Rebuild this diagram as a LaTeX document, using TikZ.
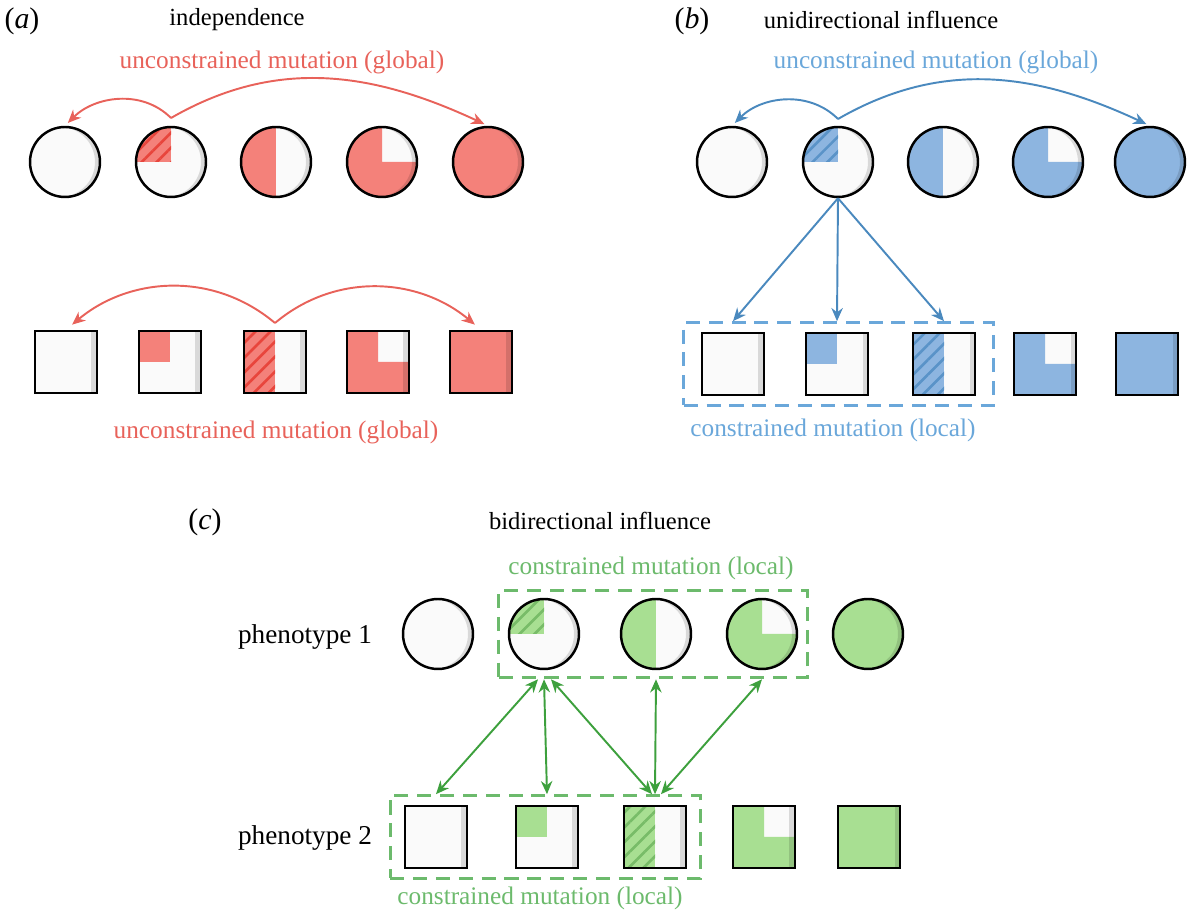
\documentclass[tikz,border=0pt]{standalone}
\usepackage{fontspec}
\setmainfont{Liberation Serif}
\usetikzlibrary{positioning,arrows.meta,patterns.meta,fit,calc}

\definecolor{paper}{HTML}{FAFAFA}
\definecolor{redfill}{HTML}{F4817A}
\definecolor{redline}{HTML}{E8625A}
\definecolor{redhatch}{HTML}{E8453C}
\definecolor{bluefill}{HTML}{8DB5E0}
\definecolor{blueline}{HTML}{4A89BE}
\definecolor{bluetext}{HTML}{6AA7DA}
\definecolor{bluehatch}{HTML}{5A93C8}
\definecolor{greenfill}{HTML}{A8DF92}
\definecolor{greenline}{HTML}{3DA03D}
\definecolor{greentext}{HTML}{6CBA6C}
\definecolor{greenhatch}{HTML}{78BC68}

% fills inside a node (path picture)
\newcommand{\pb}{path picture bounding box}
\newcommand{\fq}[1]{\fill[#1] (\pb.west) rectangle (\pb.north);}
\newcommand{\fh}[1]{\fill[#1] (\pb.south west) rectangle (\pb.north);}
\newcommand{\ft}[1]{\fill[#1] (\pb.south west) -- (\pb.north west) -- (\pb.north) -- (\pb.center) -- (\pb.east) -- (\pb.south east) -- cycle;}
\newcommand{\ff}[1]{\fill[#1] (\pb.south west) rectangle (\pb.north east);}
\newcommand{\cshade}{\fill[black,opacity=.13,even odd rule] (\pb.south west) rectangle (\pb.north east) ([xshift=-0.1cm]\pb.center) circle (0.7cm);}
\newcommand{\bshade}{\fill[black,opacity=.13] ([xshift=-0.11cm]\pb.south east) rectangle (\pb.north east);}

\tikzset{
  cir/.style={circle, draw, line width=1.4pt, minimum size=1.4cm, inner sep=0pt, fill=paper, path picture={#1\cshade}},
  cir/.default={},
  sq/.style={rectangle, draw, line width=1.4pt, minimum size=1.24cm, inner sep=0pt, fill=paper, path picture={#1\bshade}},
  sq/.default={},
  hatch/.style={pattern={Lines[angle=45,distance=6pt,line width=1.5pt]}, pattern color=#1},
  mut/.style={draw=#1, line width=1.1pt, -{Stealth[length=7.5pt,width=6.5pt]}},
  both/.style={draw=#1, line width=1.1pt, {Stealth[length=7.5pt,width=6.5pt]}-{Stealth[length=7.5pt,width=6.5pt]}},
  dbox/.style={draw=#1, dash pattern=on 8pt off 5pt, line width=1.8pt, inner sep=0pt},
  panel/.style={font=\fontsize{17}{19}\selectfont},
  title/.style={font=\fontsize{14}{16}\selectfont},
  pheno/.style={font=\fontsize{15.5}{18}\selectfont},
  lab/.style={font=\fontsize{14.4}{17}\selectfont, text=#1}
}

\begin{document}
\begin{tikzpicture}[x=0.02cm, y=0.02cm]
    \useasboundingbox (0,0) rectangle (1188,-915);

    % (a) independence
    \node[panel] (ta) at (22,-21) {(\textit{a})};
    \node[title] (tta) at (237,-20) {independence};
    \node[lab=redline] (la1) at (282,-62) {unconstrained mutation (global)};

    \node[cir] (ac1) at (65,-162) {};
    \node[cir={\fq{redfill}\fq{hatch=redhatch}}] (ac2) at (171,-162) {};
    \node[cir={\fh{redfill}}] (ac3) at (276,-162) {};
    \node[cir={\ft{redfill}}] (ac4) at (382,-162) {};
    \node[cir={\ff{redfill}}] (ac5) at (488,-162) {};
    \coordinate (ra) at (171,-118);

    \draw[mut=redline, shorten >=0.08cm] (ra) to[out=135,in=45] (ac1.north);
    \draw[mut=redline, shorten >=0.08cm] (ra) to[out=30,in=155] (ac5.north);

    \node[sq] (as1) at (66,-362) {};
    \node[sq={\fq{redfill}}] (as2) at (170,-362) {};
    \node[sq={\fh{redfill}\fh{hatch=redhatch}}] (as3) at (275,-362) {};
    \node[sq={\ft{redfill}}] (as4) at (378,-362) {};
    \node[sq={\ff{redfill}}] (as5) at (481,-362) {};
    \coordinate (rb) at (275,-323);

    \draw[mut=redline, shorten >=0.16cm] (rb) to[out=140,in=40] (as1.north);
    \draw[mut=redline, shorten >=0.16cm] (rb) to[out=40,in=140] (as5.north);
    \node[lab=redline] (la2) at (276,-432) {unconstrained mutation (global)};

    % (b) unidirectional influence
    \node[panel] (tb) at (692,-21) {(\textit{b})};
    \node[title] (ttb) at (881,-20) {unidirectional influence};
    \node[lab=bluetext] (lb1) at (936,-62) {unconstrained mutation (global)};

    \node[cir] (bc1) at (732,-162) {};
    \node[cir={\fq{bluefill}\fq{hatch=bluehatch}}] (bc2) at (838,-162) {};
    \node[cir={\fh{bluefill}}] (bc3) at (943,-162) {};
    \node[cir={\ft{bluefill}}] (bc4) at (1048,-162) {};
    \node[cir={\ff{bluefill}}] (bc5) at (1150,-162) {};
    \coordinate (rc) at (838,-119);

    \draw[mut=blueline, shorten >=0.08cm] (rc) to[out=135,in=45] (bc1.north);
    \draw[mut=blueline, shorten >=0.08cm] (rc) to[out=30,in=155] (bc5.north);

    \node[sq] (bs1) at (733,-364) {};
    \node[sq={\fq{bluefill}}] (bs2) at (837,-364) {};
    \node[sq={\fh{bluefill}\fh{hatch=bluehatch}}] (bs3) at (944,-364) {};
    \node[sq={\ft{bluefill}}] (bs4) at (1045,-364) {};
    \node[sq={\ff{bluefill}}] (bs5) at (1147,-364) {};
    \node[dbox=bluetext, fit=(bs1)(bs3), inner xsep=0.34cm, inner ysep=0.18cm] (bb) {};

    \draw[mut=blueline] (bc2.south) -- (bb.north -| bs1);
    \draw[mut=blueline] (bc2.south) -- (bb.north -| bs2);
    \draw[mut=blueline] (bc2.south) -- (bb.north -| bs3);
    \node[lab=bluetext] (lb2) at (833,-430) {constrained mutation (local)};

    % (c) bidirectional influence
    \node[panel] (tc) at (205,-522) {(\textit{c})};
    \node[title] (ttc) at (600,-521) {bidirectional influence};
    \node[lab=greentext] (lc1) at (651,-568) {constrained mutation (local)};

    \node[pheno] (p1) at (305,-637) {phenotype 1};
    \node[cir] (cc1) at (438,-634) {};
    \node[cir={\fq{greenfill}\fq{hatch=greenhatch}}] (cc2) at (544,-634) {};
    \node[cir={\fh{greenfill}}] (cc3) at (656,-634) {};
    \node[cir={\ft{greenfill}}] (cc4) at (762,-634) {};
    \node[cir={\ff{greenfill}}] (cc5) at (868,-634) {};
    \node[dbox=greentext, fit=(cc2)(cc4), inner xsep=0.18cm, inner ysep=0.15cm] (cb) {};

    \node[pheno] (p2) at (305,-838) {phenotype 2};
    \node[sq] (cs1) at (436,-837) {};
    \node[sq={\fq{greenfill}}] (cs2) at (547,-837) {};
    \node[sq={\fh{greenfill}\fh{hatch=greenhatch}}] (cs3) at (655,-837) {};
    \node[sq={\ft{greenfill}}] (cs4) at (764,-837) {};
    \node[sq={\ff{greenfill}}] (cs5) at (869,-837) {};
    \node[dbox=greentext, fit=(cs1)(cs3), inner xsep=0.27cm, inner ysep=0.18cm] (sb) {};
    \node[lab=greentext] (lc2) at (540,-898) {constrained mutation (local)};

    \draw[both=greenline] ($(cb.south -| cc2)+(-6,0)$) -- (sb.north -| cs1);
    \draw[both=greenline] (cb.south -| cc2) -- (sb.north -| cs2);
    \draw[both=greenline] ($(cb.south -| cc2)+(7,0)$) -- ($(sb.north -| cs3)+(-3,0)$);
    \draw[both=greenline] (cb.south -| cc3) -- (sb.north -| cs3);
    \draw[both=greenline] (cb.south -| cc4) -- ($(sb.north -| cs3)+(6,0)$);
\end{tikzpicture}
\end{document}
